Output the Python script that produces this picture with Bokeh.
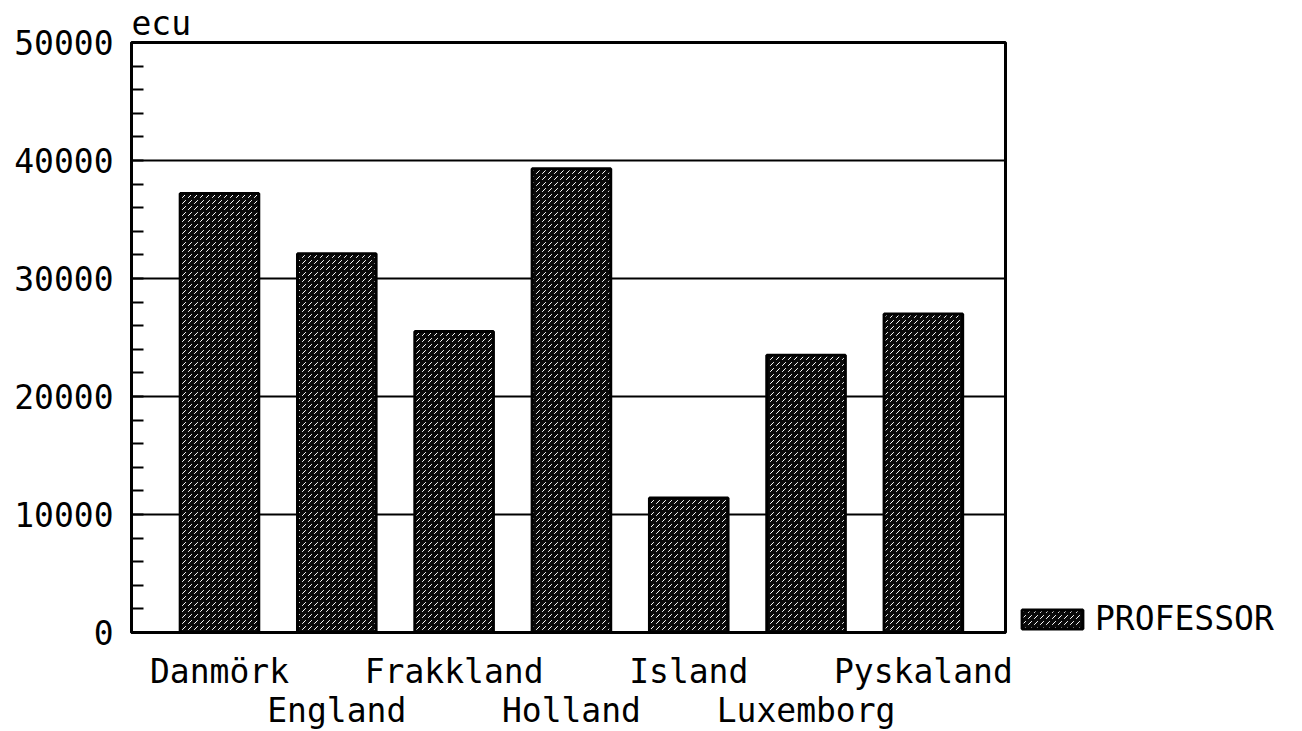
from bokeh.plotting import figure
from bokeh.models import (ColumnDataSource, Range1d, FixedTicker, Legend, LegendItem)
from bokeh.embed import file_html
from bokeh.resources import INLINE

# Salaries (ecu) by country
countries = ["Danmörk", "England", "Frakkland", "Holland", "Island", "Luxemborg", "Pyskaland"]
professor = [37200, 32100, 25500, 39300, 11400, 23500, 27000]
y_ticks = [0, 10000, 20000, 30000, 40000, 50000]

FONT = "DejaVu Sans Mono"
FS = "33px"

xs = list(range(len(countries)))
src = ColumnDataSource(dict(x=xs, top=professor))

p = figure(frame_width=874, frame_height=590, output_backend="svg",
           toolbar_location=None,
           x_range=Range1d(-0.75, 6.70), y_range=Range1d(0, 50000),
           min_border_left=131, min_border_right=0, min_border_top=42,
           min_border_bottom=99)

p.title.text = "ecu"
p.title.text_font = FONT
p.title.text_font_size = FS
p.title.text_font_style = "normal"
p.title.text_color = "black"
p.title.align = "left"
p.title.standoff = 0
p.title.text_line_height = 1.0

p.outline_line_color = "black"
p.outline_line_width = 3
p.background_fill_color = "white"
p.border_fill_color = "white"

# speckled dark bars
bars = p.vbar(x="x", top="top", width=0.67, source=src,
              fill_color="#0a0a0a", line_color="black", line_width=3,
              hatch_pattern=",", hatch_color="white", hatch_scale=6,
              hatch_weight=1.0)

# y axis
p.yaxis.ticker = FixedTicker(ticks=y_ticks,
                             minor_ticks=list(range(0, 50001, 2000)))
p.yaxis.formatter.use_scientific = False
p.yaxis.major_label_text_font = FONT
p.yaxis.major_label_text_font_size = FS
p.yaxis.major_label_text_color = "black"
p.yaxis.major_label_standoff = 18
p.yaxis.major_tick_in = 0
p.yaxis.major_tick_out = 0
p.yaxis.minor_tick_in = 12
p.yaxis.minor_tick_out = 0
p.yaxis.minor_tick_line_width = 2
p.yaxis.minor_tick_line_color = "black"
p.yaxis.axis_line_width = 3
p.yaxis.axis_line_color = "black"

# x axis: staggered labels on two rows
p.xaxis.ticker = FixedTicker(ticks=xs)
p.xaxis.major_label_overrides = {
    i: (c if i % 2 == 0 else "\n" + c) for i, c in enumerate(countries)
}
p.xaxis.major_label_text_font = FONT
p.xaxis.major_label_text_font_size = FS
p.xaxis.major_label_text_color = "black"
p.xaxis.major_label_text_line_height = 1.0
p.xaxis.major_label_standoff = 19
p.xaxis.major_tick_in = 0
p.xaxis.major_tick_out = 0
p.xaxis.minor_tick_line_color = None
p.xaxis.axis_line_width = 3
p.xaxis.axis_line_color = "black"

p.xgrid.grid_line_color = None
p.ygrid.grid_line_color = "black"
p.ygrid.grid_line_width = 2

legend = Legend(items=[LegendItem(label="PROFESSOR", renderers=[bars])],
                location=(9, -6), orientation="vertical")
legend.label_text_font = FONT
legend.label_text_font_size = FS
legend.label_text_color = "black"
legend.glyph_width = 76
legend.glyph_height = 24
legend.label_standoff = 5
legend.label_height = 24
legend.padding = 0
legend.margin = 2
legend.border_line_color = None
legend.background_fill_alpha = 0
p.add_layout(legend, "right")

open("out.html", "w").write(file_html(p, INLINE))
